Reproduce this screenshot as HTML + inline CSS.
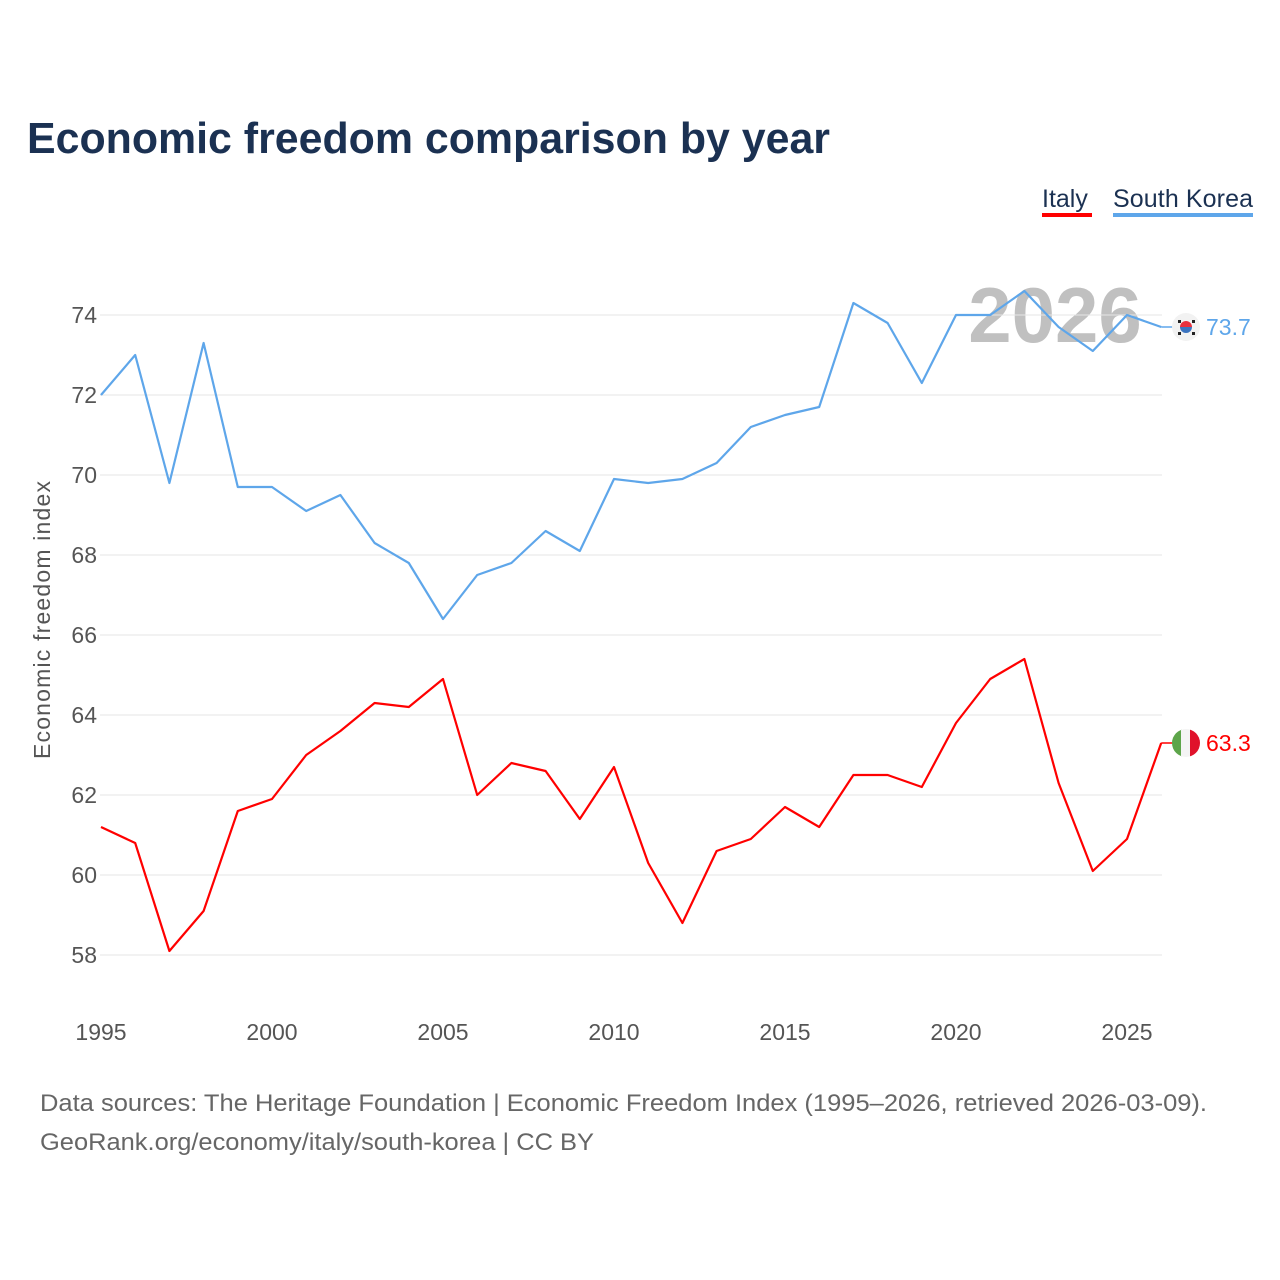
<!DOCTYPE html>
<html><head><meta charset="utf-8"><style>
body{margin:0;background:#fff;font-family:"Liberation Sans",sans-serif}
svg{display:block}
</style></head><body>
<svg id="chart" width="1280" height="1280" xmlns="http://www.w3.org/2000/svg">
<text x="27" y="153" font-size="44" font-weight="bold" fill="#1b3152" textLength="803" lengthAdjust="spacingAndGlyphs">Economic freedom comparison by year</text>
<g>
<text x="1042" y="207" font-size="25" fill="#1b3152">Italy</text>
<rect x="1042" y="213" width="50" height="4" fill="#ff0000"/>
<text x="1113" y="207" font-size="25" fill="#1b3152" textLength="140">South Korea</text>
<rect x="1113" y="213" width="140" height="4" fill="#5ea6ea"/>
</g>
<text x="1055" y="342" font-size="78" font-weight="bold" fill="#c0c0c0" text-anchor="middle">2026</text>
<g id="grid"></g>
<g id="axes"></g>
<g id="series"></g>
<text transform="translate(50,620) rotate(-90)" font-size="23" fill="#555" text-anchor="middle" textLength="278">Economic freedom index</text>
<text x="40" y="1111" font-size="24" fill="#666" textLength="1167" lengthAdjust="spacingAndGlyphs">Data sources: The Heritage Foundation | Economic Freedom Index (1995–2026, retrieved 2026-03-09).</text>
<text x="40" y="1150" font-size="24" fill="#666" textLength="554" lengthAdjust="spacingAndGlyphs">GeoRank.org/economy/italy/south-korea | CC BY</text>
</svg>
<script>
const years=[1995,1996,1997,1998,1999,2000,2001,2002,2003,2004,2005,2006,2007,2008,2009,2010,2011,2012,2013,2014,2015,2016,2017,2018,2019,2020,2021,2022,2023,2024,2025,2026];
const korea=[72.0,73.0,69.8,73.3,69.7,69.7,69.1,69.5,68.3,67.8,66.4,67.5,67.8,68.6,68.1,69.9,69.8,69.9,70.3,71.2,71.5,71.7,74.3,73.8,72.3,74.0,74.0,74.6,73.7,73.1,74.0,73.7];
const italy=[61.2,60.8,58.1,59.1,61.6,61.9,63.0,63.6,64.3,64.2,64.9,62.0,62.8,62.6,61.4,62.7,60.3,58.8,60.6,60.9,61.7,61.2,62.5,62.5,62.2,63.8,64.9,65.4,62.3,60.1,60.9,63.3];
const yTicks=[58,60,62,64,66,68,70,72,74];
const xTicks=[1995,2000,2005,2010,2015,2020,2025];
const NS="http://www.w3.org/2000/svg";
const X=v=>101+(v-1995)*34.2;
const Y=v=>315+(74-v)*40;
function mk(t,a,p){const e=document.createElementNS(NS,t);for(const k in a)e.setAttribute(k,a[k]);p.appendChild(e);return e;}
const grid=document.getElementById('grid'),axes=document.getElementById('axes'),ser=document.getElementById('series');
yTicks.forEach(v=>{
 const l=mk('line',{x1:100,x2:1162,y1:Y(v),y2:Y(v),stroke:'#e6e6e6','stroke-width':1},grid);
 
 
 const t=mk('text',{x:97,y:Y(v)+8,'font-size':23,fill:'#555','text-anchor':'end'},axes);
 t.textContent=v;
 
 
});
xTicks.forEach(v=>{
 const t=mk('text',{x:X(v),y:1040,'font-size':23,fill:'#555','text-anchor':'middle'},axes);
 t.textContent=v;
 
 
});
function line(vals,color,name){
 const d=vals.map((v,i)=>(i?'L':'M')+X(years[i]).toFixed(1)+','+Y(v).toFixed(1)).join('');
 const p=mk('path',{d:d,fill:'none',stroke:color,'stroke-width':2.2,'stroke-linejoin':'round'},ser);
 
 
 const last=vals[vals.length-1],lx=X(years[years.length-1]),ly=Y(last);
 const c=mk('line',{x1:lx,x2:lx+12,y1:ly,y2:ly,stroke:color,'stroke-width':1.5},ser);
 
 
 const t=mk('text',{x:1206,y:ly+8,'font-size':23,fill:color},ser);
 t.textContent=last.toFixed(1);
 
 
 return ly;
}
const ky=line(korea,'#5ea6ea','south-korea');
const iy=line(italy,'#ff0000','italy');
const kf=mk('g',{},ser);


mk('circle',{cx:1186,cy:ky,r:14,fill:'#f2f2f2'},kf);
mk('path',{d:`M1180,${ky} a6,6 0 0 1 12,0 z`,fill:'#e8303e'},kf);
mk('path',{d:`M1180,${ky} a6,6 0 0 0 12,0 z`,fill:'#3b74c0'},kf);
[[-8,-7],[6,-7],[-8,5],[6,5]].forEach(o=>mk('rect',{x:1186+o[0],y:ky+o[1],width:3,height:3,fill:'#222'},kf));
const itf=mk('g',{},ser);


mk('clipPath',{id:'ic'},itf);
mk('circle',{cx:1186,cy:iy,r:14},document.getElementById('ic'));
mk('rect',{x:1172,y:iy-14,width:10,height:28,fill:'#5da54a','clip-path':'url(#ic)'},itf);
mk('rect',{x:1181,y:iy-14,width:10,height:28,fill:'#f4f4f4','clip-path':'url(#ic)'},itf);
mk('rect',{x:1190,y:iy-14,width:10,height:28,fill:'#e0122b','clip-path':'url(#ic)'},itf);
</script>
</body></html>
